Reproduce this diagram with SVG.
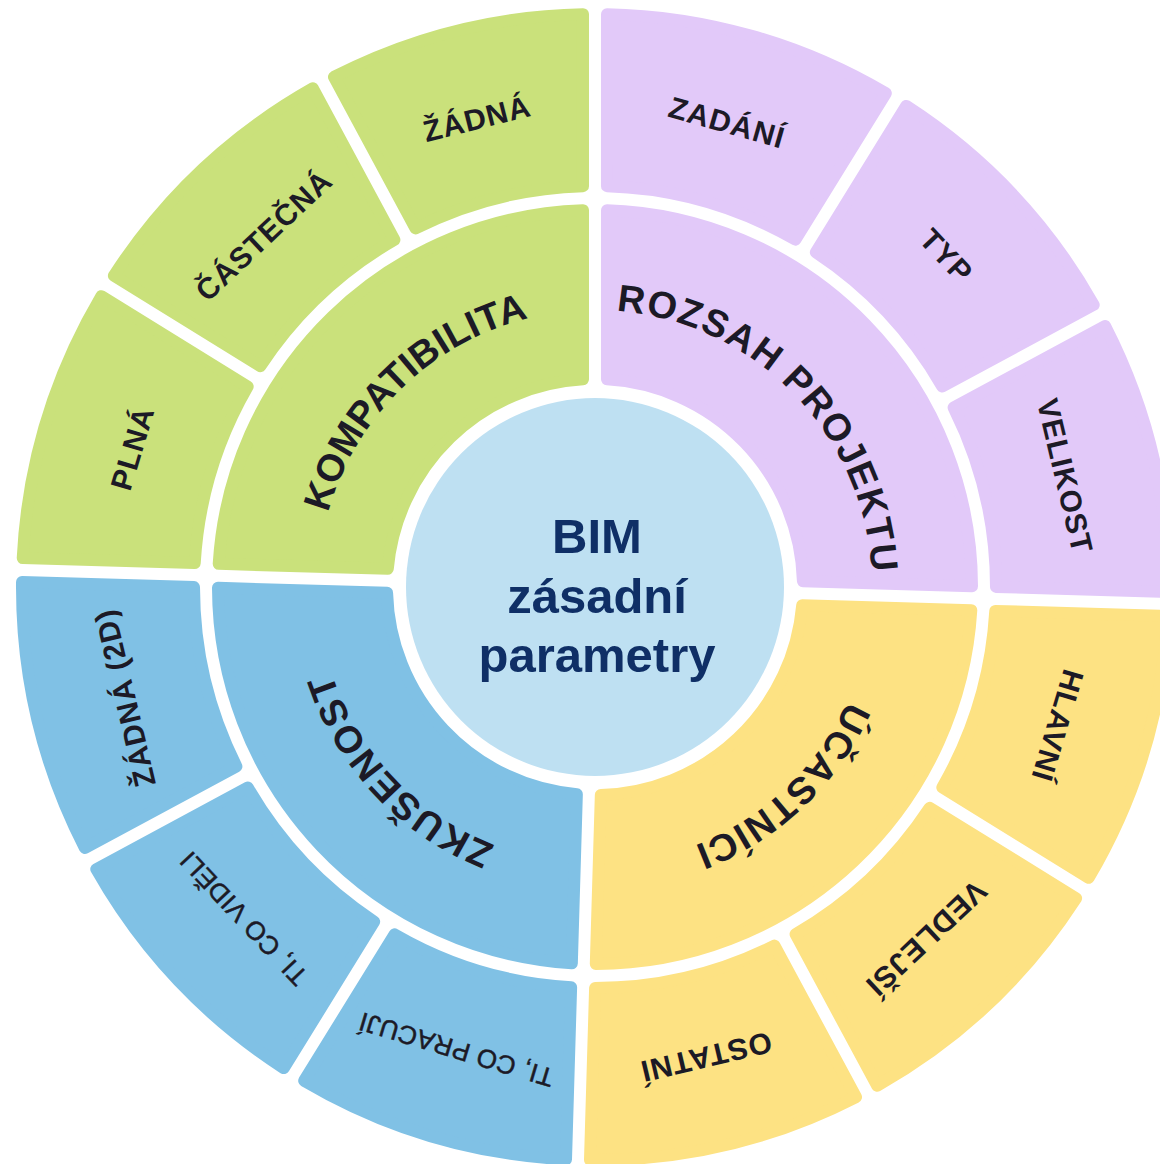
<svg xmlns="http://www.w3.org/2000/svg" width="1160" height="1164" viewBox="0 0 1160 1164">
<style>
.seg{stroke-width:12;stroke-linejoin:round}
.g{fill:#cae17b;stroke:#cae17b}
.p{fill:#e2c9f9;stroke:#e2c9f9}
.y{fill:#fde283;stroke:#fde283}
.b{fill:#80c1e5;stroke:#80c1e5}
.lbl{font-family:"Liberation Sans",Arial,Helvetica,sans-serif;font-weight:bold;font-size:30px;fill:#1c1a26;text-anchor:middle;letter-spacing:1px}
.thin{font-weight:normal;font-size:26px;stroke:#1c1a26;stroke-width:0.5px;letter-spacing:0.5px}
.big{font-family:"Liberation Sans",Arial,Helvetica,sans-serif;font-weight:bold;font-size:38px;fill:#1c1a26;letter-spacing:1.2px}
.ctr{font-family:"Liberation Sans",Arial,Helvetica,sans-serif;font-weight:bold;font-size:49px;fill:#0f2f66;text-anchor:middle}
</style>
<defs>
<path id="so" d="M 390.27,-92.15 L 556.46,-136.68 A 573 573 0 0 1 556.46,136.68 L 390.27,92.15 A 401 401 0 0 0 390.27,-92.15 Z"/>
<path id="si" d="M 155.32,-138.35 L 274.93,-257.96 A 377 377 0 0 1 274.93,257.96 L 155.32,138.35 A 208 208 0 0 0 155.32,-138.35 Z"/>
<path id="arc" d="M -277,0 A 277 277 0 0 1 277,0"/>
</defs>
<rect width="1160" height="1164" fill="#ffffff"/>
<g id="wheel" transform="translate(595,587) rotate(1.7)">
  <!-- inner ring -->
  <g id="kompatibilita">
    <path class="seg g" transform="rotate(225)" d="M 155.32,-138.35 L 274.93,-257.96 A 377 377 0 0 1 282.46,249.69 L 159.35,133.68 A 208 208 0 0 0 155.32,-138.35 Z"/>
    <text class="big" text-anchor="middle" transform="rotate(314.15)" style="letter-spacing:0.3px"><textPath href="#arc" startOffset="50%">KOMPATIBILITA</textPath></text>
  </g>
  <g id="rozsah-projektu">
    <path class="seg p" transform="rotate(315)" d="M 151.15,-142.89 L 267.16,-266.00 A 377 377 0 0 1 274.93,257.96 L 155.32,138.35 A 208 208 0 0 0 151.15,-142.89 Z"/>
    <text class="big" text-anchor="middle" transform="rotate(44.15)" style="letter-spacing:1.5px"><textPath href="#arc" startOffset="50%">ROZSAH PROJEKTU</textPath></text>
  </g>
  <g id="ucastnici">
    <use href="#si" class="seg y" transform="rotate(45)"/>
    <text class="big" text-anchor="middle" transform="rotate(135)"><textPath href="#arc" startOffset="50%">ÚČASTNÍCI</textPath></text>
  </g>
  <g id="zkusenost">
    <use href="#si" class="seg b" transform="rotate(135)"/>
    <text class="big" text-anchor="middle" transform="rotate(225)" style="letter-spacing:1.4px"><textPath href="#arc" startOffset="50%">ZKUŠENOST</textPath></text>
  </g>
  <!-- outer ring: green -->
  <g id="plna">
    <use href="#so" class="seg g" transform="rotate(195)"/>
    <text class="lbl" y="10.5" transform="rotate(195) translate(483,0) rotate(90)">PLNÁ</text>
  </g>
  <g id="castecna">
    <use href="#so" class="seg g" transform="rotate(225)"/>
    <text class="lbl" y="10.5" transform="rotate(225) translate(483,0) rotate(90)">ČÁSTEČNÁ</text>
  </g>
  <g id="zadna">
    <path class="seg g" transform="rotate(255)" d="M 390.27,-92.15 L 556.46,-136.68 A 573 573 0 0 1 560.27,120.11 L 392.83,80.53 A 401 401 0 0 0 390.27,-92.15 Z"/>
    <text class="lbl" y="10.5" transform="rotate(254.15) translate(483,0) rotate(90)">ŽÁDNÁ</text>
  </g>
  <!-- outer ring: purple -->
  <g id="zadani">
    <path class="seg p" transform="rotate(285)" d="M 387.36,-103.69 L 552.16,-153.13 A 573 573 0 0 1 556.46,136.68 L 390.27,92.15 A 401 401 0 0 0 387.36,-103.69 Z"/>
    <text class="lbl" y="10.5" transform="rotate(284.15) translate(483,0) rotate(90)">ZADÁNÍ</text>
  </g>
  <g id="typ">
    <use href="#so" class="seg p" transform="rotate(315)"/>
    <text class="lbl" y="10.5" transform="rotate(315) translate(483,0) rotate(90)">TYP</text>
  </g>
  <g id="velikost">
    <use href="#so" class="seg p" transform="rotate(345)"/>
    <text class="lbl" y="10.5" transform="rotate(345) translate(483,0) rotate(90)">VELIKOST</text>
  </g>
  <!-- outer ring: yellow -->
  <g id="hlavni">
    <use href="#so" class="seg y" transform="rotate(15)"/>
    <text class="lbl" y="10.5" transform="rotate(15) translate(483,0) rotate(90)">HLAVNÍ</text>
  </g>
  <g id="vedlejsi">
    <use href="#so" class="seg y" transform="rotate(45)"/>
    <text class="lbl" y="10.5" transform="rotate(45) translate(483,0) rotate(90)">VEDLEJŠÍ</text>
  </g>
  <g id="ostatni">
    <use href="#so" class="seg y" transform="rotate(75)"/>
    <text class="lbl" y="10.5" transform="rotate(75) translate(483,0) rotate(90)">OSTATNÍ</text>
  </g>
  <!-- outer ring: blue -->
  <g id="ti-co-pracuji">
    <use href="#so" class="seg b" transform="rotate(105)"/>
    <text class="lbl thin" y="9" transform="rotate(105) translate(483,0) rotate(90)">TI, CO PRACUJÍ</text>
  </g>
  <g id="ti-co-videli">
    <use href="#so" class="seg b" transform="rotate(135)"/>
    <text class="lbl thin" y="9" transform="rotate(135) translate(483,0) rotate(90)">TI, CO VIDĚLI</text>
  </g>
  <g id="zadna-2d">
    <use href="#so" class="seg b" transform="rotate(165)"/>
    <text class="lbl" y="10.5" transform="rotate(165) translate(483,0) rotate(90)">ŽÁDNÁ (2D)</text>
  </g>
</g>
<g id="center">
  <circle cx="595" cy="587" r="189" fill="#bee0f2"/>
  <text class="ctr" x="597" y="553">BIM</text>
  <text class="ctr" x="597" y="613">zásadní</text>
  <text class="ctr" x="597" y="672">parametry</text>
</g>
<g id="connectors"/>
</svg>
